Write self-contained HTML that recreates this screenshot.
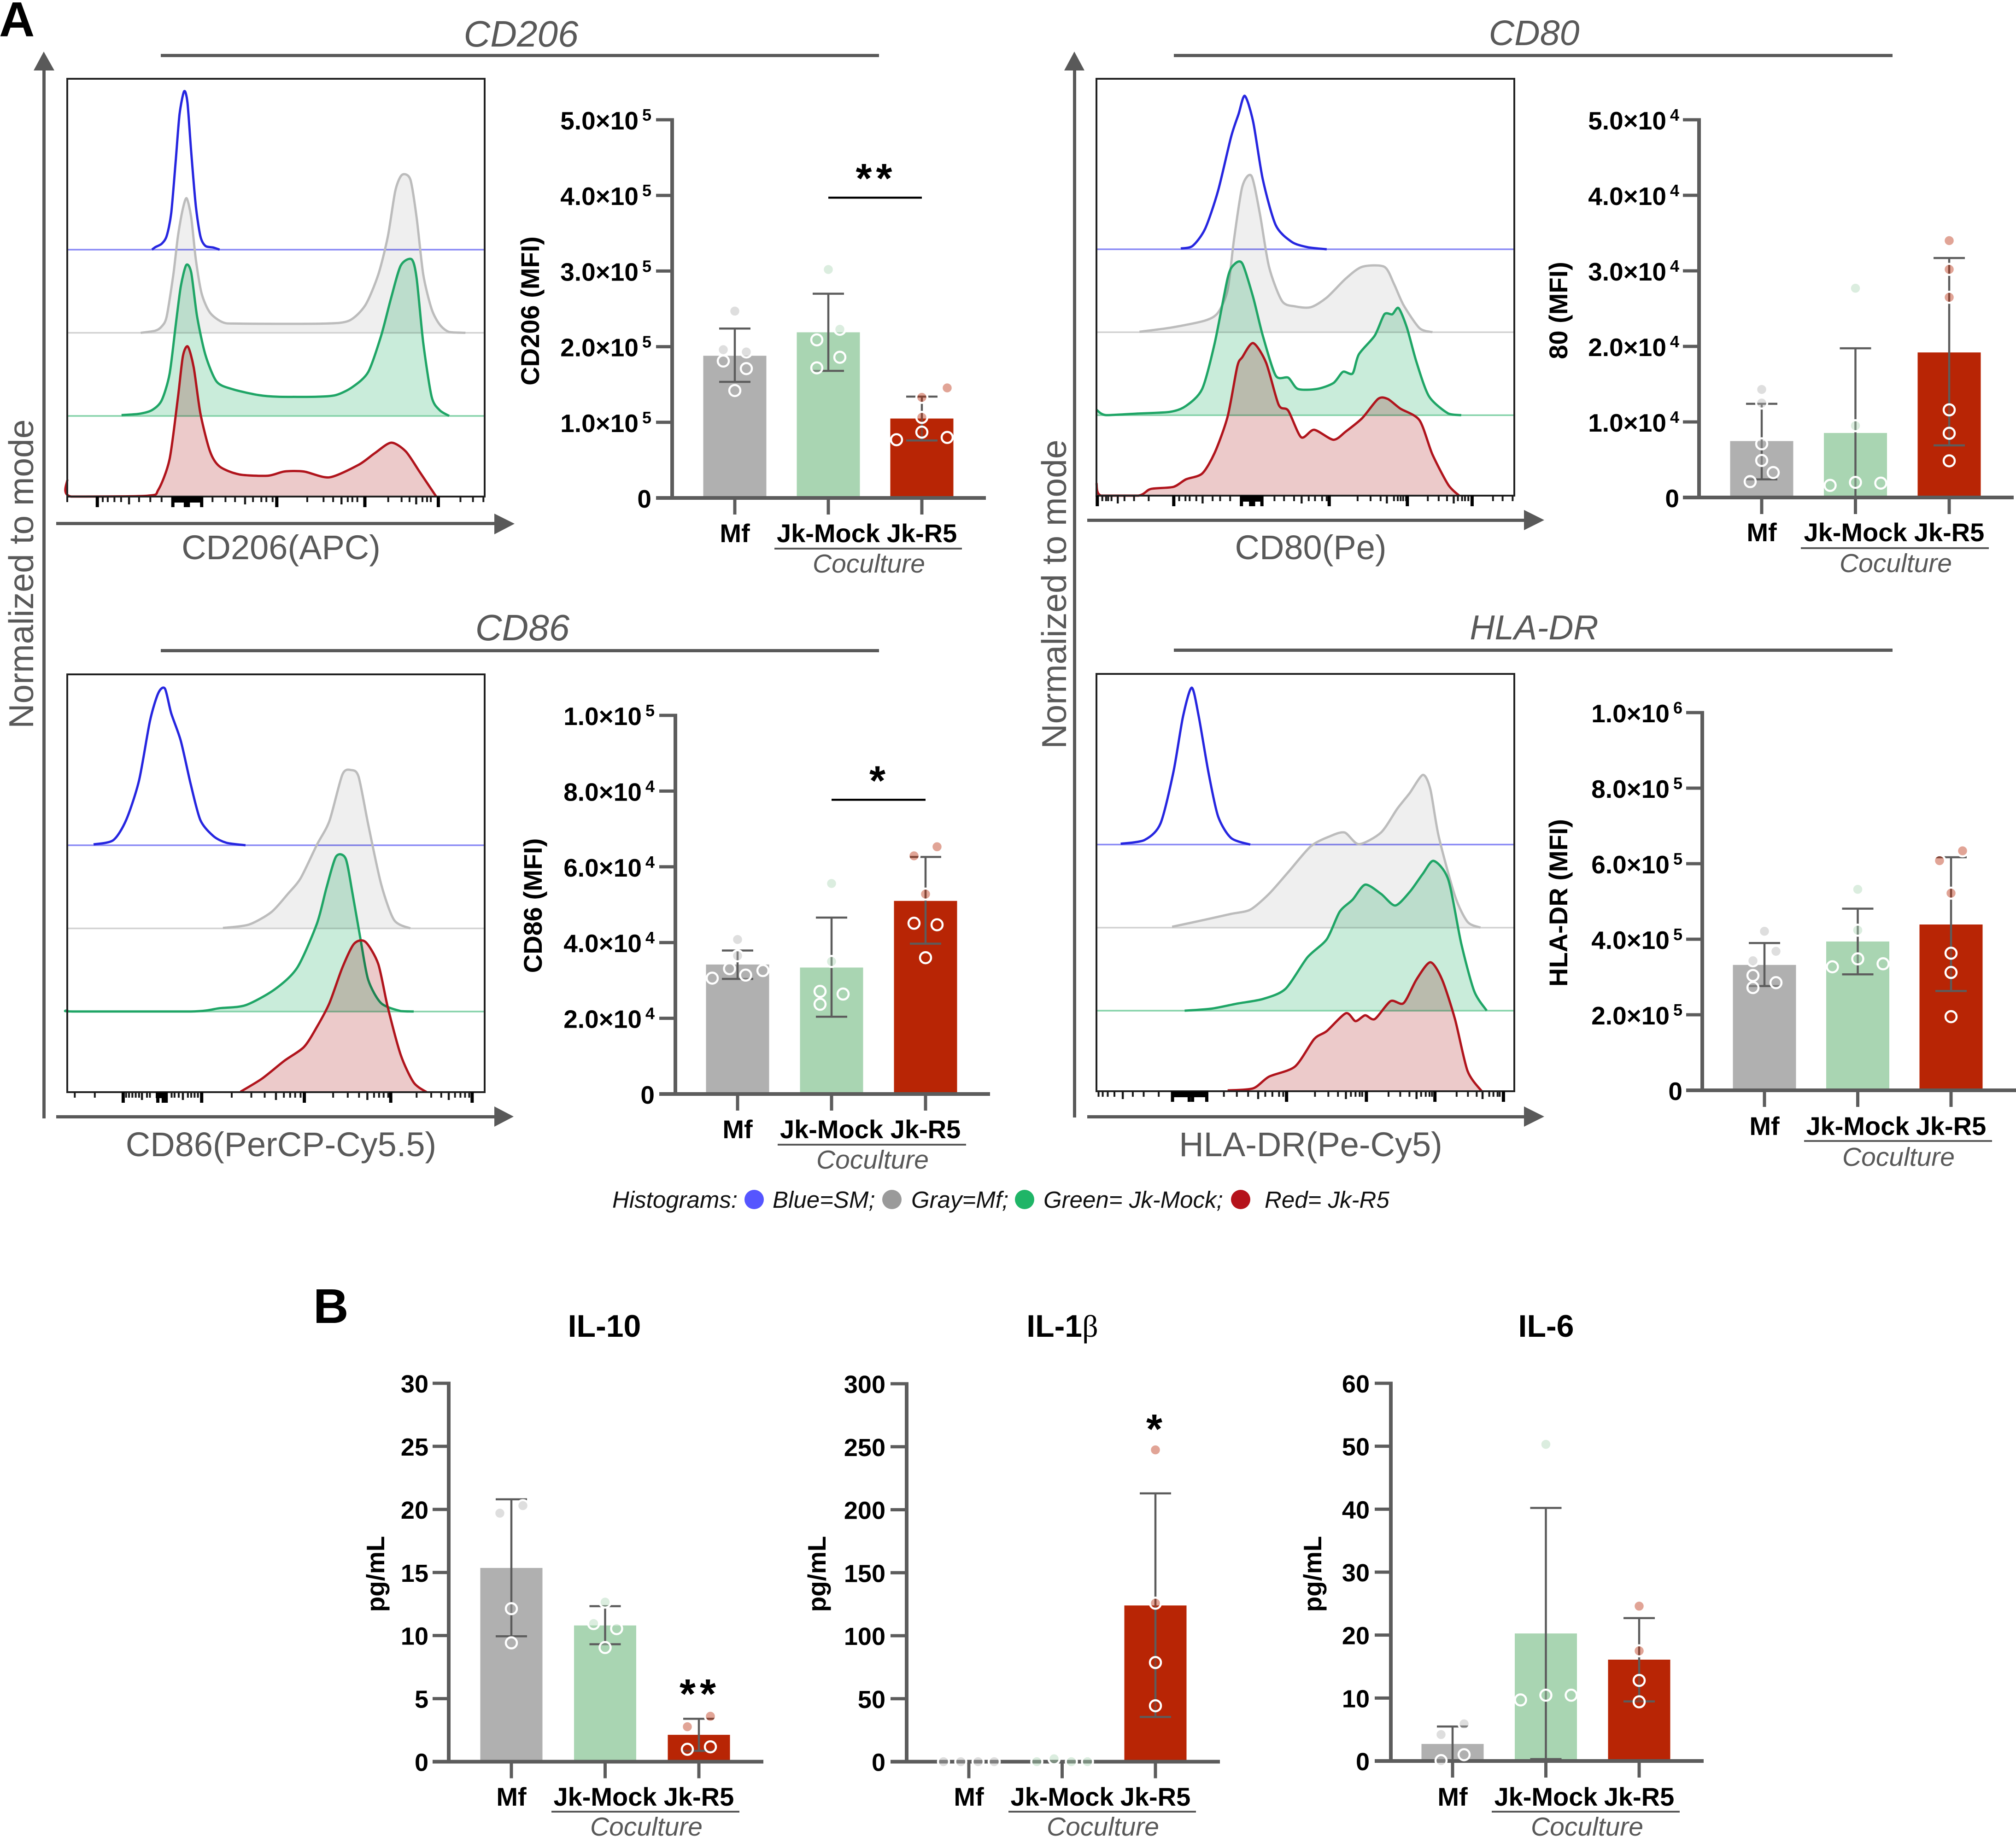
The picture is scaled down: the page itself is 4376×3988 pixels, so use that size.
<!DOCTYPE html>
<html lang="en">
<head>
<meta charset="utf-8">
<title>Macrophage marker histograms and cytokine bar charts</title>
<style>
html,body{margin:0;padding:0;background:#fff;}
svg{display:block;font-family:"Liberation Sans",Arial,sans-serif;}
.title{font-style:italic;fill:#595959;text-anchor:middle;}
.xlab{font-size:74px;fill:#595959;text-anchor:middle;}
.vlab{font-size:75px;fill:#595959;text-anchor:middle;}
.ylab{font-size:56px;font-weight:bold;fill:#000;text-anchor:middle;}
.cocult{font-size:57px;font-style:italic;fill:#595959;text-anchor:middle;}
.leg{font-size:51px;font-style:italic;fill:#111;}
.head{font-size:68px;font-weight:bold;fill:#000;text-anchor:middle;}
</style>
</head>
<body>
<svg xmlns="http://www.w3.org/2000/svg" width="4376" height="3988" viewBox="0 0 4376 3988">
<rect width="4376" height="3988" fill="#fff"/>

<text x="-2" y="79" font-size="107" font-weight="bold">A</text>
<text x="680" y="2872" font-size="106" font-weight="bold">B</text>

<!-- Left and right shared axes -->
<g fill="#595959">
<rect x="92" y="150" width="7" height="2278"/>
<polygon points="95,112 73,153 118,153"/>
</g>
<text class="vlab" transform="translate(72,1246) rotate(-90)">Normalized to mode</text>
<g fill="#595959">
<rect x="2329" y="150" width="7" height="2276"/>
<polygon points="2332,112 2310,153 2354,153"/>
</g>
<text class="vlab" transform="translate(2314,1290) rotate(-90)">Normalized to mode</text>

<!-- CD206 furniture -->
<text class="title" x="1131" y="101" font-size="80">CD206</text>
<rect x="349" y="117" width="1559" height="7" fill="#595959"/>
<g fill="#595959"><rect x="122" y="1133" width="955" height="7"/><polygon points="1117,1137 1073,1115 1073,1160"/></g>
<text class="xlab" x="610" y="1214">CD206(APC)</text>
<text class="ylab" transform="translate(1170,675) rotate(-90)">CD206 (MFI)</text>
<rect x="1681" y="1189" width="407" height="4" fill="#595959"/>
<text class="cocult" x="1886" y="1243">Coculture</text>

<!-- CD80 furniture -->
<text class="title" x="3330" y="98" font-size="77">CD80</text>
<rect x="2548" y="117" width="1560" height="7" fill="#595959"/>
<g fill="#595959"><rect x="2360" y="1126" width="950" height="7"/><polygon points="3352,1129 3308,1107 3308,1151"/></g>
<text class="xlab" x="2845" y="1214">CD80(Pe)</text>
<text class="ylab" transform="translate(3402,674) rotate(-90)">80 (MFI)</text>
<rect x="3909" y="1188" width="408" height="4" fill="#595959"/>
<text class="cocult" x="4115" y="1242">Coculture</text>

<!-- CD86 furniture -->
<text class="title" x="1134" y="1390" font-size="80">CD86</text>
<rect x="349" y="1409" width="1559" height="7" fill="#595959"/>
<g fill="#595959"><rect x="122" y="2421" width="955" height="7"/><polygon points="1115,2424 1073,2402 1073,2446"/></g>
<text class="xlab" x="610" y="2510">CD86(PerCP-Cy5.5)</text>
<text class="ylab" transform="translate(1176,1966) rotate(-90)">CD86 (MFI)</text>
<rect x="1688" y="2483" width="409" height="4" fill="#595959"/>
<text class="cocult" x="1894" y="2537">Coculture</text>

<!-- HLA-DR furniture -->
<text class="title" x="3330" y="1388" font-size="75">HLA-DR</text>
<rect x="2548" y="1408" width="1560" height="7" fill="#595959"/>
<g fill="#595959"><rect x="2360" y="2421" width="950" height="7"/><polygon points="3352,2424 3308,2402 3308,2446"/></g>
<text class="xlab" x="2845" y="2510">HLA-DR(Pe-Cy5)</text>
<text class="ylab" transform="translate(3402,1960) rotate(-90)">HLA-DR (MFI)</text>
<rect x="3916" y="2475" width="408" height="4" fill="#595959"/>
<text class="cocult" x="4121" y="2531">Coculture</text>

<!-- Legend -->
<g>
<text class="leg" x="1329" y="2622">Histograms:</text>
<circle cx="1637" cy="2604" r="21" fill="#5555ff"/>
<text class="leg" x="1677" y="2622">Blue=SM;</text>
<circle cx="1936" cy="2604" r="21" fill="#9a9a9a"/>
<text class="leg" x="1978" y="2622">Gray=Mf;</text>
<circle cx="2224" cy="2604" r="21" fill="#1fb567"/>
<text class="leg" x="2265" y="2622">Green= Jk-Mock;</text>
<circle cx="2693" cy="2604" r="21" fill="#b5121b"/>
<text class="leg" x="2745" y="2622">Red= Jk-R5</text>
</g>

<!-- Panel B furniture -->
<text class="head" x="1312" y="2902">IL-10</text>
<text class="head" x="2306" y="2902">IL-1<tspan font-family="'Liberation Serif',serif" font-weight="normal">β</tspan></text>
<text class="head" x="3356" y="2902">IL-6</text>
<text class="ylab" style="font-size:55px" transform="translate(834,3417) rotate(-90)">pg/mL</text>
<text class="ylab" style="font-size:55px" transform="translate(1792,3417) rotate(-90)">pg/mL</text>
<text class="ylab" style="font-size:55px" transform="translate(2868,3417) rotate(-90)">pg/mL</text>
<rect x="1197" y="3931" width="408" height="4" fill="#595959"/>
<text class="cocult" x="1403" y="3985">Coculture</text>
<rect x="2189" y="3931" width="407" height="4" fill="#595959"/>
<text class="cocult" x="2394" y="3985">Coculture</text>
<rect x="3238" y="3931" width="408" height="4" fill="#595959"/>
<text class="cocult" x="3445" y="3985">Coculture</text>

<g id="hist-cd206"></g>
<g id="hist-cd80"></g>
<g id="hist-cd86"></g>
<g id="hist-hla"></g>
<g id="bars-cd206"></g>
<g id="bars-cd80"></g>
<g id="bars-cd86"></g>
<g id="bars-hla"></g>
<g id="bars-il10"></g>
<g id="bars-il1b"></g>
<g id="bars-il6"></g>
</svg>

<script>
// ---------- Shared categories ----------
const categories = ['Mf', 'Jk-Mock', 'Jk-R5'];
const categorySlugs = ['mf', 'jk-mock', 'jk-r5'];

// ---------- Bar chart data ----------
const cd206Means = [1.88e5, 2.19e5, 1.05e5];
const cd206Upper = [2.24e5, 2.70e5, 1.34e5];
const cd206Lower = [1.535e5, 1.68e5, 0.76e5];
const cd206Points = [[2.47e5, 1.96e5, 1.93e5, 1.81e5, 1.71e5, 1.42e5], [3.02e5, 2.23e5, 2.09e5, 1.86e5, 1.72e5], [1.455e5, 1.33e5, 1.065e5, 0.87e5, 0.80e5, 0.77e5]];
const cd206Lanes = [[0, -1, 1, -1, 1, 0], [0, 1, -1, 1, -1], [2.2, 0, 0, 0, 2.2, -2.2]];
const cd206Ticks = [0, 1e5, 2e5, 3e5, 4e5, 5e5];
const cd206TickLabels = ['0', '1.0×10^5', '2.0×10^5', '3.0×10^5', '4.0×10^5', '5.0×10^5'];

const cd80Means = [0.747e4, 0.854e4, 1.92e4];
const cd80Upper = [1.24e4, 1.975e4, 3.17e4];
const cd80Lower = [0.24e4, 0, 0.69e4];
const cd80Points = [[1.43e4, 1.25e4, 0.71e4, 0.49e4, 0.33e4, 0.21e4], [2.77e4, 0.95e4, 0.20e4, 0.19e4, 0.16e4], [3.40e4, 3.02e4, 2.65e4, 1.16e4, 0.85e4, 0.485e4]];
const cd80Lanes = [[0, 0, 0, 0, 1, -1], [0, 0, 0, 2.2, -2.2], [0, 0, 0, 0, 0, 0]];
const cd80Ticks = [0, 1e4, 2e4, 3e4, 4e4, 5e4];
const cd80TickLabels = ['0', '1.0×10^4', '2.0×10^4', '3.0×10^4', '4.0×10^4', '5.0×10^4'];

const cd86Means = [3.42e4, 3.34e4, 5.10e4];
const cd86Upper = [3.79e4, 4.66e4, 6.26e4];
const cd86Lower = [3.04e4, 2.04e4, 3.97e4];
const cd86Points = [[4.08e4, 3.65e4, 3.31e4, 3.06e4, 3.14e4, 3.26e4], [5.56e4, 3.50e4, 2.71e4, 2.64e4, 2.37e4], [6.53e4, 6.29e4, 5.28e4, 4.51e4, 4.47e4, 3.60e4]];
const cd86Lanes = [[0, 0, -0.7, -2.2, 0.7, 2.2], [0, 0, -1, 1, -1], [1, -1, 0, -1, 1, 0]];
const cd86Ticks = [0, 2e4, 4e4, 6e4, 8e4, 1e5];
const cd86TickLabels = ['0', '2.0×10^4', '4.0×10^4', '6.0×10^4', '8.0×10^4', '1.0×10^5'];

const hlaMeans = [3.32e5, 3.94e5, 4.39e5];
const hlaUpper = [3.90e5, 4.81e5, 6.17e5];
const hlaLower = [2.76e5, 3.07e5, 2.63e5];
const hlaPoints = [[4.21e5, 3.68e5, 3.43e5, 3.04e5, 2.85e5, 2.72e5], [5.32e5, 4.24e5, 3.48e5, 3.35e5, 3.27e5], [6.34e5, 6.08e5, 5.22e5, 3.63e5, 3.12e5, 1.95e5]];
const hlaLanes = [[0, 1, -1, -1, 1, -1], [0, 0, 0, 2.2, -2.2], [1, -1, 0, 0, 0, 0]];
const hlaTicks = [0, 2e5, 4e5, 6e5, 8e5, 1e6];
const hlaTickLabels = ['0', '2.0×10^5', '4.0×10^5', '6.0×10^5', '8.0×10^5', '1.0×10^6'];

const il10Means = [15.36, 10.8, 2.13];
const il10Upper = [20.8, 12.33, 3.40];
const il10Lower = [9.94, 9.31, 0.86];
const il10Points = [[20.3, 19.7, 12.13, 9.42], [12.65, 10.95, 10.55, 9.05], [3.6, 2.77, 1.18, 0.98]];
const il10Lanes = [[1, -1, 0, 0], [0, -1, 1, 0], [1, -1, 1, -1]];
const il10Ticks = [0, 5, 10, 15, 20, 25, 30];
const il10TickLabels = ['0', '5', '10', '15', '20', '25', '30'];

const il1bMeans = [0, 0, 124];
const il1bUpper = [0, 0, 213];
const il1bLower = [0, 0, 35.5];
const il1bPoints = [[0, 0, 0, 0], [0, 2.3, 0, 0], [247.5, 125.8, 78.7, 44.4]];
const il1bLanes = [[-2.2, -0.7, 0.8, 2.2], [-2.2, -0.7, 0.8, 2.2], [0, 0, 0, 0]];
const il1bTicks = [0, 50, 100, 150, 200, 250, 300];
const il1bTickLabels = ['0', '50', '100', '150', '200', '250', '300'];

const il6Means = [2.71, 20.26, 16.1];
const il6Upper = [5.48, 40.2, 22.7];
const il6Lower = [0, 0.3, 9.47];
const il6Points = [[5.9, 4.2, 1.0, 0.06], [50.3, 10.45, 10.45, 9.7], [24.6, 17.5, 12.8, 9.4]];
const il6Lanes = [[1, -1, 1, -1], [0, 0, 2.2, -2.2], [0, 0, 0, 0]];
const il6Ticks = [0, 10, 20, 30, 40, 50, 60];
const il6TickLabels = ['0', '10', '20', '30', '40', '50', '60'];

// Significance annotations: [first category, last category, value level]
const cd206Sig = [1, 2, 3.97e5];
const cd86Sig = [1, 2, 7.77e4];
const il10Star = [2, 5.75];
const il1bStar = [2, 267.8];

// ---------- Histogram data: [channel %, height % of frame above trace baseline] ----------
const cd206Blue = [[20.3,0],[21.1,.6],[22.6,1.4],[23.8,3.2],[24.9,8.7],[26,21.5],[26.9,32.4],[28,37.9],[28.8,35.2],[29.7,23.3],[30.8,10.5],[31.9,3.2],[33.1,.9],[35,.5],[36.5,0]];
const cd206Gray = [[17.6,0],[21.1,.5],[22.6,1.5],[23.8,3.8],[25.4,13.8],[26.5,23],[27.6,29.3],[28.6,32.2],[29.7,27.6],[30.8,17.6],[32.2,9.4],[34.2,4.8],[37.3,2.5],[41.2,2.2],[61.3,2.2],[67.5,2.9],[71.4,6.6],[74.5,13.9],[76.8,23],[78.6,34],[80.2,37.8],[82.2,36.7],[83.7,27.6],[85.3,13.9],[87.3,5.7],[89.2,2],[91.5,.2],[95.4,0]];
const cd206Green = [[13,.2],[17.2,.5],[20.3,1.4],[22.6,3.7],[24.5,10],[26,21.9],[27.2,31],[28.5,36.1],[29.7,34.3],[31.1,23.8],[33.1,14.6],[35.8,8.2],[39.6,6.4],[45.8,5],[50.5,4.6],[59.8,4.6],[64.4,5],[68.3,6.9],[72.1,10.5],[75.2,19.2],[77.6,28.3],[79.9,36],[82.5,37.5],[83.7,33],[85.3,17.4],[87.3,4.6],[89.2,1.4],[91.5,0]];
const cd206Red = [[0,4],[.9,0],[19.2,.2],[21.8,1.6],[24.5,8.9],[26.5,23.6],[27.7,33.6],[28.9,35.9],[30.3,30.9],[31.9,19.9],[34.2,10.8],[36.5,7.2],[41.2,5.3],[48.1,5],[52,6],[56.7,6],[62.8,4.6],[69.8,7.6],[73.7,10.4],[77.6,12.9],[81.1,10.8],[84.5,5.8],[88.4,0]];

const cd80Blue = [[20.2,.2],[23,.8],[26,4.9],[29.1,14],[32.2,26.9],[34,32.4],[35.5,36.8],[37.5,30.6],[39.8,16.8],[42.9,5.8],[46.7,1.8],[50.5,.5],[55.1,0]];
const cd80Gray = [[10.3,.1],[18.4,1.2],[26,2.8],[29.1,4.7],[31.4,10.2],[32.9,22.1],[34.9,34.9],[37.1,37.5],[39.1,28.5],[41.3,15.7],[44.4,7.5],[47.5,6.2],[51.3,6],[55.1,8.3],[59.7,12.9],[63.6,15.7],[68.9,15.7],[71.2,11.6],[73.5,6.5],[77.3,1],[80.4,0]];
const cd80Green = [[0,1.3],[2.3,0],[10,.4],[17.6,.8],[21.4,2.2],[25.3,6.3],[28.3,17.3],[31.4,32.9],[32.9,36.1],[34.9,36.4],[37.5,28.3],[39.8,19.1],[42.9,9.5],[45.9,9],[48.2,6.3],[52.8,6.3],[56.7,7.7],[59,10.4],[61.3,10],[62.8,14.6],[66.6,19.1],[68.9,24.2],[70.8,24.2],[72.3,25.7],[74.3,21],[76.6,12.7],[79.6,4.5],[84.2,.4],[87.3,0]];
const cd80Red = [[0,3],[1.1,0],[10,0],[13,1.6],[18.4,2.1],[21.4,3.9],[25.3,5.3],[28.3,10.3],[31.4,19],[33.7,31],[34.9,33.2],[37.5,36.6],[40.6,31.9],[43.6,21.8],[45.9,20.4],[49,14],[52.1,15.8],[56.7,13.4],[59.7,15.4],[63.6,18.6],[67.4,23.2],[69.7,23.2],[72.7,20.9],[77.3,18.1],[80.4,9.9],[84.2,2.6],[86.8,0]];

const cd86Blue = [[6.3,.2],[11,1.2],[14.1,6],[17.2,15.5],[19.8,29.7],[21.8,36.4],[23.4,37.5],[24.9,31.6],[27.2,25],[29.6,14.5],[31.9,6],[35,2.2],[38.1,.6],[42.7,0]];
const cd86Gray = [[37.3,.1],[43.5,.9],[48.9,3.9],[52.8,8.2],[55.9,12],[59.8,20],[62.8,25.7],[65.9,36.8],[68,37.9],[69.8,36.3],[72.1,24.9],[75.2,10.6],[78.3,2],[82.2,0]];
const cd86Green = [[0,.3],[1.7,0],[29.6,0],[36.5,.8],[42.7,1.5],[49.7,5.3],[55.1,10.5],[59.8,21],[62.1,29.6],[64.4,37.1],[66.7,36.6],[68.3,28.5],[70.3,17.1],[72.1,7.6],[75.2,2],[79.9,.1],[83,0]];
const cd86Red = [[41.5,.1],[46.6,3.2],[52,7.5],[56.7,10.8],[59.8,15.6],[62.8,21.3],[65.9,29.8],[68.7,35.5],[71.4,36],[74.5,30.7],[76.8,20.3],[79.9,8.9],[83,2.3],[86.1,0]];

const hlaBlue = [[5.8,.2],[11.5,1.1],[15.3,5],[18.4,17.3],[20.7,30.6],[22.8,37.6],[24.5,30.6],[26.8,17.3],[29.1,6.8],[32.2,1.6],[36.8,0]];
const hlaGray = [[18.1,.2],[26,1.9],[32.2,3.3],[36.8,4.3],[41.3,8.1],[45.9,13.3],[51.3,19.5],[55.9,21.9],[59.4,22.8],[62.8,20],[68.1,22.8],[72,28.5],[75,32.3],[78.1,36.6],[79.9,33.2],[81.9,21.9],[85.8,7.6],[88.8,1.4],[91.9,0]];
const hlaGreen = [[21.1,0],[27.6,.5],[33.7,1.7],[39.8,2.8],[45.2,5.2],[50.5,12.8],[55.1,17.1],[58.2,23.7],[61.3,26.6],[64.3,30.2],[68.1,28],[71.5,25.2],[75,28.5],[78.1,32.8],[80.7,35.9],[84.2,31.4],[87.3,16.1],[90.4,4.7],[93.4,0]];
const hlaRed = [[31.4,.2],[37.5,.7],[41.3,3.5],[47.5,5.9],[52.1,12.5],[55.1,14.4],[59.7,18.7],[62,16.8],[64.3,18.2],[66.6,17.3],[70.4,21.6],[73.5,21.1],[76.6,26.8],[79.9,30.9],[82.7,26.8],[85.8,17.3],[88.8,4.9],[92.2,0]];

// Histogram axis ticks (channel %)
const cd206MajorTicks = [7.2, 25.3, 28.3, 29, 32.2, 50.2, 71.3, 88.9];
const cd206MidTicks = [14.8, 42.6, 65.7, 83.6];
const cd206MinorTicks = [0, 8.5, 9.7, 11.3, 12.9, 17.2, 19.9, 22.6, 34.8, 37.9, 40.2, 44.5, 46.5, 47.7, 49.2, 57.5, 61.4, 63.7, 67.2, 68.3, 69.5, 76.9, 80.1, 82, 85.1, 86.2, 87.1, 94.2, 97.2, 99.7];
const cd206Cluster = [25.3, 32.2];

const cd80MajorTicks = [0.2, 18.5, 34.7, 36.9, 37.6, 39.6, 55.7, 74.4, 89.9];
const cd80MidTicks = [5.1, 25.4, 49.1, 69.5, 85.5];
const cd80MinorTicks = [1.4, 2.3, 2.8, 3.6, 6.7, 9, 12.5, 19.8, 21.3, 22.3, 23.9, 27.8, 29.6, 32, 42.6, 44.9, 47.3, 50.8, 52.3, 54, 55.1, 62.5, 65.6, 68, 71.2, 72.1, 72.8, 73.4, 74.1, 79.3, 81.9, 83.9, 86.5, 87.5, 88.2, 89, 94.9, 97.2, 99.6];
const cd80Cluster = [34.5, 39.9];

const cd86MajorTicks = [13.4, 21.7, 23, 23.7, 32.2, 56.8, 77.5, 97];
const cd86MidTicks = [17.9, 27.7, 50, 71.9, 91.4];
const cd86MinorTicks = [1.8, 6.6, 14.1, 14.8, 15.6, 16.4, 17.2, 19.1, 19.8, 25, 25.7, 26.7, 28.9, 29.7, 30.5, 31.3, 39.4, 44.1, 47.3, 51.9, 53.4, 54.6, 55.9, 63.7, 67.2, 69.9, 73.5, 74.7, 75.8, 76.9, 83.7, 87.2, 89.6, 92.9, 94.2, 95.3, 96.3];
const cd86Cluster = [21.2, 24];

const hlaMajorTicks = [18.2, 22.2, 23, 26.4, 45.5, 64.6, 81, 97.4];
const hlaMidTicks = [6.3, 38.7, 59.7, 76.6, 92.4];
const hlaMinorTicks = [.5, 1.5, 2.7, 4.3, 8.7, 11.3, 14.9, 30.5, 33.6, 36.3, 40.4, 42.1, 43.7, 44.7, 52.3, 55.5, 57.8, 60.9, 62, 63, 63.6, 69.9, 72.7, 74.9, 77.7, 78.8, 79.7, 80.3, 86.2, 88.9, 91, 94, 95, 96, 96.5];
const hlaCluster = [18.2, 26.7];

// ---------- Drawing helpers ----------
const NS = 'http://www.w3.org/2000/svg';
const INK = '#5c5c5c';
const BAR_FILLS = ['#b0b0b0', '#a9d5b2', '#b82505'];
const LANE_PX = 25;
const STAR_DROP = 41;

function make(tag, attrs, parent) {
  const node = document.createElementNS(NS, tag);
  for (const key in attrs) node.setAttribute(key, attrs[key]);
  parent.appendChild(node);
  return node;
}

// Smooth curve through the trace points, never dipping below its baseline.
function curveSegments(pts, sx, sy) {
  let d = '';
  for (let i = 0; i < pts.length - 1; i++) {
    const p0 = pts[Math.max(0, i - 1)], p1 = pts[i], p2 = pts[i + 1], p3 = pts[Math.min(pts.length - 1, i + 2)];
    const k = 0.13;
    const c1x = p1[0] + (p2[0] - p0[0]) * k, c1y = Math.max(0, p1[1] + (p2[1] - p0[1]) * k);
    const c2x = p2[0] - (p3[0] - p1[0]) * k, c2y = Math.max(0, p2[1] - (p3[1] - p1[1]) * k);
    d += ' C' + sx(c1x).toFixed(1) + ' ' + sy(c1y).toFixed(1) + ' ' + sx(c2x).toFixed(1) + ' ' + sy(c2y).toFixed(1) + ' ' + sx(p2[0]).toFixed(1) + ' ' + sy(p2[1]).toFixed(1);
  }
  return d;
}

function drawHistogram(id, name, frame, traces, majors, mids, minors, cluster) {
  const g = document.getElementById(id);
  const sx = c => frame.left + (c / 100) * (frame.right - frame.left);
  const h = frame.bottom - frame.top;

  traces.forEach(tr => {
    const sy = v => frame.bottom - ((tr.base + v) / 100) * h;
    const pts = tr.data;
    const first = pts[0], last = pts[pts.length - 1];
    const curve = curveSegments(pts, sx, sy);
    if (tr.fill) {
      const areaPath = 'M' + sx(first[0]).toFixed(1) + ' ' + sy(0).toFixed(1) + ' L' + sx(first[0]).toFixed(1) + ' ' + sy(first[1]).toFixed(1) + curve + ' L' + sx(last[0]).toFixed(1) + ' ' + sy(0).toFixed(1) + ' Z';
      const area = make('path', { d: areaPath, fill: tr.fill, style: 'mix-blend-mode:multiply' }, g);
      
      
    }
    if (tr.base > 0) {
      const baseLine = make('line', { x1: sx(0), x2: sx(100), y1: sy(0), y2: sy(0), stroke: tr.soft, 'stroke-width': 3.5 }, g);
      
      
    }
    const line = make('path', { d: 'M' + sx(first[0]).toFixed(1) + ' ' + sy(first[1]).toFixed(1) + curve, fill: 'none', stroke: tr.color, 'stroke-width': 5, 'stroke-linejoin': 'round' }, g);
    
    
  });

  const box = make('rect', { x: frame.left, y: frame.top, width: frame.right - frame.left, height: h, fill: 'none', stroke: '#222', 'stroke-width': 4 }, g);
  
  

  const block = make('rect', { x: sx(cluster[0]), y: frame.bottom, width: sx(cluster[1]) - sx(cluster[0]), height: 13, fill: '#000' }, g);
  
  
  minors.forEach(c => {
    const t = make('line', { x1: sx(c), x2: sx(c), y1: frame.bottom, y2: frame.bottom + 12, stroke: '#1a1a1a', 'stroke-width': 4 }, g);
    
    
  });
  mids.forEach(c => {
    const t = make('line', { x1: sx(c), x2: sx(c), y1: frame.bottom, y2: frame.bottom + 17, stroke: '#1a1a1a', 'stroke-width': 4.5 }, g);
    
    
  });
  majors.forEach(c => {
    const t = make('line', { x1: sx(c), x2: sx(c), y1: frame.bottom, y2: frame.bottom + 23, stroke: '#000', 'stroke-width': 7 }, g);
    
    
  });
}

const frameBases = [59.1, 39.2, 19.3, 0];
function traceSet(blue, gray, green, red) {
  return [
    { key: 'blue', data: blue, base: frameBases[0], color: '#2626e0', soft: '#8a8af5' },
    { key: 'gray', data: gray, base: frameBases[1], color: '#bcbcbc', soft: '#d2d2d2', fill: '#efefef' },
    { key: 'green', data: green, base: frameBases[2], color: '#1fa566', soft: '#84d2a9', fill: '#c9ecda' },
    { key: 'red', data: red, base: frameBases[3], color: '#b0141c', soft: '#b0141c', fill: '#eccaca' }
  ];
}

function drawBarChart(id, name, f, means, upper, lower, points, lanes, ticks, tickLabels, sig, star) {
  const g = document.getElementById(id);
  const ymax = ticks[ticks.length - 1];
  const sy = v => f.zero - (v / ymax) * (f.zero - f.top);
  const cx = i => f.c0 + f.step * i;

  means.forEach((m, i) => {
    const bar = make('rect', { x: cx(i) - f.barW / 2, y: sy(m), width: f.barW, height: f.zero - sy(m), fill: BAR_FILLS[i] }, g);
    
    
  });

  const yAxis = make('line', { x1: f.axisX, x2: f.axisX, y1: f.top - 3.5, y2: f.zero + 4, stroke: INK, 'stroke-width': 8 }, g);
  
  
  const xAxis = make('line', { x1: f.axisX - 35, x2: f.xEnd, y1: f.zero, y2: f.zero, stroke: INK, 'stroke-width': 8 }, g);
  
  

  ticks.forEach((v, i) => {
    const t = make('line', { x1: f.axisX - 35, x2: f.axisX, y1: sy(v), y2: sy(v), stroke: INK, 'stroke-width': 7 }, g);
    
    
    const parts = tickLabels[i].split('^');
    const lab = make('text', { x: f.axisX - f.labelGap, y: sy(v) + f.labelDrop, 'text-anchor': 'end', 'font-size': f.labelSize, 'font-weight': 'bold', fill: '#000' }, g);
    
    
    lab.appendChild(document.createTextNode(parts[0]));
    if (parts[1]) {
      const sup = make('tspan', { dy: -19, dx: 8, 'font-size': 36 }, lab);
      
      
      sup.textContent = parts[1];
    }
  });

  categories.forEach((c, i) => {
    const t = make('line', { x1: cx(i), x2: cx(i), y1: f.zero, y2: f.zero + 36, stroke: INK, 'stroke-width': 7 }, g);
    
    
    const lab = make('text', { x: cx(i), y: f.catY, 'text-anchor': 'middle', 'font-size': 56, 'font-weight': 'bold', fill: '#000' }, g);
    
    
    lab.textContent = c;
  });

  means.forEach((m, i) => {
    if (upper[i] <= 0) return;
    const stem = make('line', { x1: cx(i), x2: cx(i), y1: sy(upper[i]), y2: sy(lower[i]), stroke: INK, 'stroke-width': 4.5 }, g);
    
    
    const capTop = make('line', { x1: cx(i) - 34, x2: cx(i) + 34, y1: sy(upper[i]), y2: sy(upper[i]), stroke: INK, 'stroke-width': 4.5 }, g);
    
    
    const capLow = make('line', { x1: cx(i) - 34, x2: cx(i) + 34, y1: sy(lower[i]), y2: sy(lower[i]), stroke: INK, 'stroke-width': 4.5 }, g);
    
    
  });

  points.forEach((series, i) => {
    series.forEach((v, j) => {
      const dot = make('circle', { cx: cx(i) + lanes[i][j] * LANE_PX, cy: sy(v), r: 12, fill: BAR_FILLS[i], 'fill-opacity': 0.42, stroke: '#fff', 'stroke-width': 4.5 }, g);
      
      
    });
  });

  if (sig) {
    const y = sy(sig[2]);
    const rule = make('line', { x1: cx(sig[0]), x2: cx(sig[1]), y1: y, y2: y, stroke: '#000', 'stroke-width': 4.5 }, g);
    
    
    const s = make('text', { x: (cx(sig[0]) + cx(sig[1])) / 2 + 2, y: y - 52 + STAR_DROP, 'text-anchor': 'middle', 'font-size': 90, 'font-weight': 'bold', 'letter-spacing': 9, fill: '#000' }, g);
    
    
    s.textContent = f.stars;
  }
  if (star) {
    const s = make('text', { x: cx(star[0]) + 2, y: sy(star[1]) + STAR_DROP, 'text-anchor': 'middle', 'font-size': 90, 'font-weight': 'bold', 'letter-spacing': 9, fill: '#000' }, g);
    
    
    s.textContent = f.stars;
  }
}

// ---------- Render ----------
drawHistogram('hist-cd206', 'cd206', { left: 146, right: 1052, top: 171, bottom: 1078 }, traceSet(cd206Blue, cd206Gray, cd206Green, cd206Red), cd206MajorTicks, cd206MidTicks, cd206MinorTicks, cd206Cluster);
drawHistogram('hist-cd80', 'cd80', { left: 2380, right: 3287, top: 171, bottom: 1076 }, traceSet(cd80Blue, cd80Gray, cd80Green, cd80Red), cd80MajorTicks, cd80MidTicks, cd80MinorTicks, cd80Cluster);
drawHistogram('hist-cd86', 'cd86', { left: 146, right: 1052, top: 1464, bottom: 2371 }, traceSet(cd86Blue, cd86Gray, cd86Green, cd86Red), cd86MajorTicks, cd86MidTicks, cd86MinorTicks, cd86Cluster);
drawHistogram('hist-hla', 'hla-dr', { left: 2380, right: 3287, top: 1463, bottom: 2369 }, traceSet(hlaBlue, hlaGray, hlaGreen, hlaRed), hlaMajorTicks, hlaMidTicks, hlaMinorTicks, hlaCluster);

drawBarChart('bars-cd206', 'cd206', { axisX: 1459, top: 260, zero: 1081, xEnd: 2140, c0: 1595, step: 203, barW: 137, catY: 1177, labelGap: 45, labelDrop: 21, labelSize: 55, stars: '**' }, cd206Means, cd206Upper, cd206Lower, cd206Points, cd206Lanes, cd206Ticks, cd206TickLabels, cd206Sig, null);
drawBarChart('bars-cd80', 'cd80', { axisX: 3688, top: 260, zero: 1080, xEnd: 4371, c0: 3824, step: 203.5, barW: 137, catY: 1175, labelGap: 43, labelDrop: 21, labelSize: 55, stars: '' }, cd80Means, cd80Upper, cd80Lower, cd80Points, cd80Lanes, cd80Ticks, cd80TickLabels, null, null);
drawBarChart('bars-cd86', 'cd86', { axisX: 1466, top: 1553, zero: 2375, xEnd: 2149, c0: 1601, step: 204, barW: 137, catY: 2471, labelGap: 45, labelDrop: 21, labelSize: 55, stars: '*' }, cd86Means, cd86Upper, cd86Lower, cd86Points, cd86Lanes, cd86Ticks, cd86TickLabels, cd86Sig, null);
drawBarChart('bars-hla', 'hla-dr', { axisX: 3695, top: 1547, zero: 2367, xEnd: 4376, c0: 3830, step: 202.5, barW: 137, catY: 2464, labelGap: 43, labelDrop: 21, labelSize: 55, stars: '' }, hlaMeans, hlaUpper, hlaLower, hlaPoints, hlaLanes, hlaTicks, hlaTickLabels, null, null);
drawBarChart('bars-il10', 'il10', { axisX: 974, top: 3003, zero: 3824.5, xEnd: 1657, c0: 1110, step: 203.5, barW: 135, catY: 3920, labelGap: 44, labelDrop: 20, labelSize: 54, stars: '**' }, il10Means, il10Upper, il10Lower, il10Points, il10Lanes, il10Ticks, il10TickLabels, null, il10Star);
drawBarChart('bars-il1b', 'il1b', { axisX: 1968, top: 3004, zero: 3824.5, xEnd: 2648, c0: 2103, step: 202.5, barW: 135, catY: 3920, labelGap: 46, labelDrop: 20, labelSize: 54, stars: '*' }, il1bMeans, il1bUpper, il1bLower, il1bPoints, il1bLanes, il1bTicks, il1bTickLabels, null, il1bStar);
drawBarChart('bars-il6', 'il6', { axisX: 3019, top: 3003, zero: 3823, xEnd: 3698, c0: 3153, step: 202.5, barW: 135, catY: 3920, labelGap: 46, labelDrop: 20, labelSize: 54, stars: '' }, il6Means, il6Upper, il6Lower, il6Points, il6Lanes, il6Ticks, il6TickLabels, null, null);
</script>
</body>
</html>
